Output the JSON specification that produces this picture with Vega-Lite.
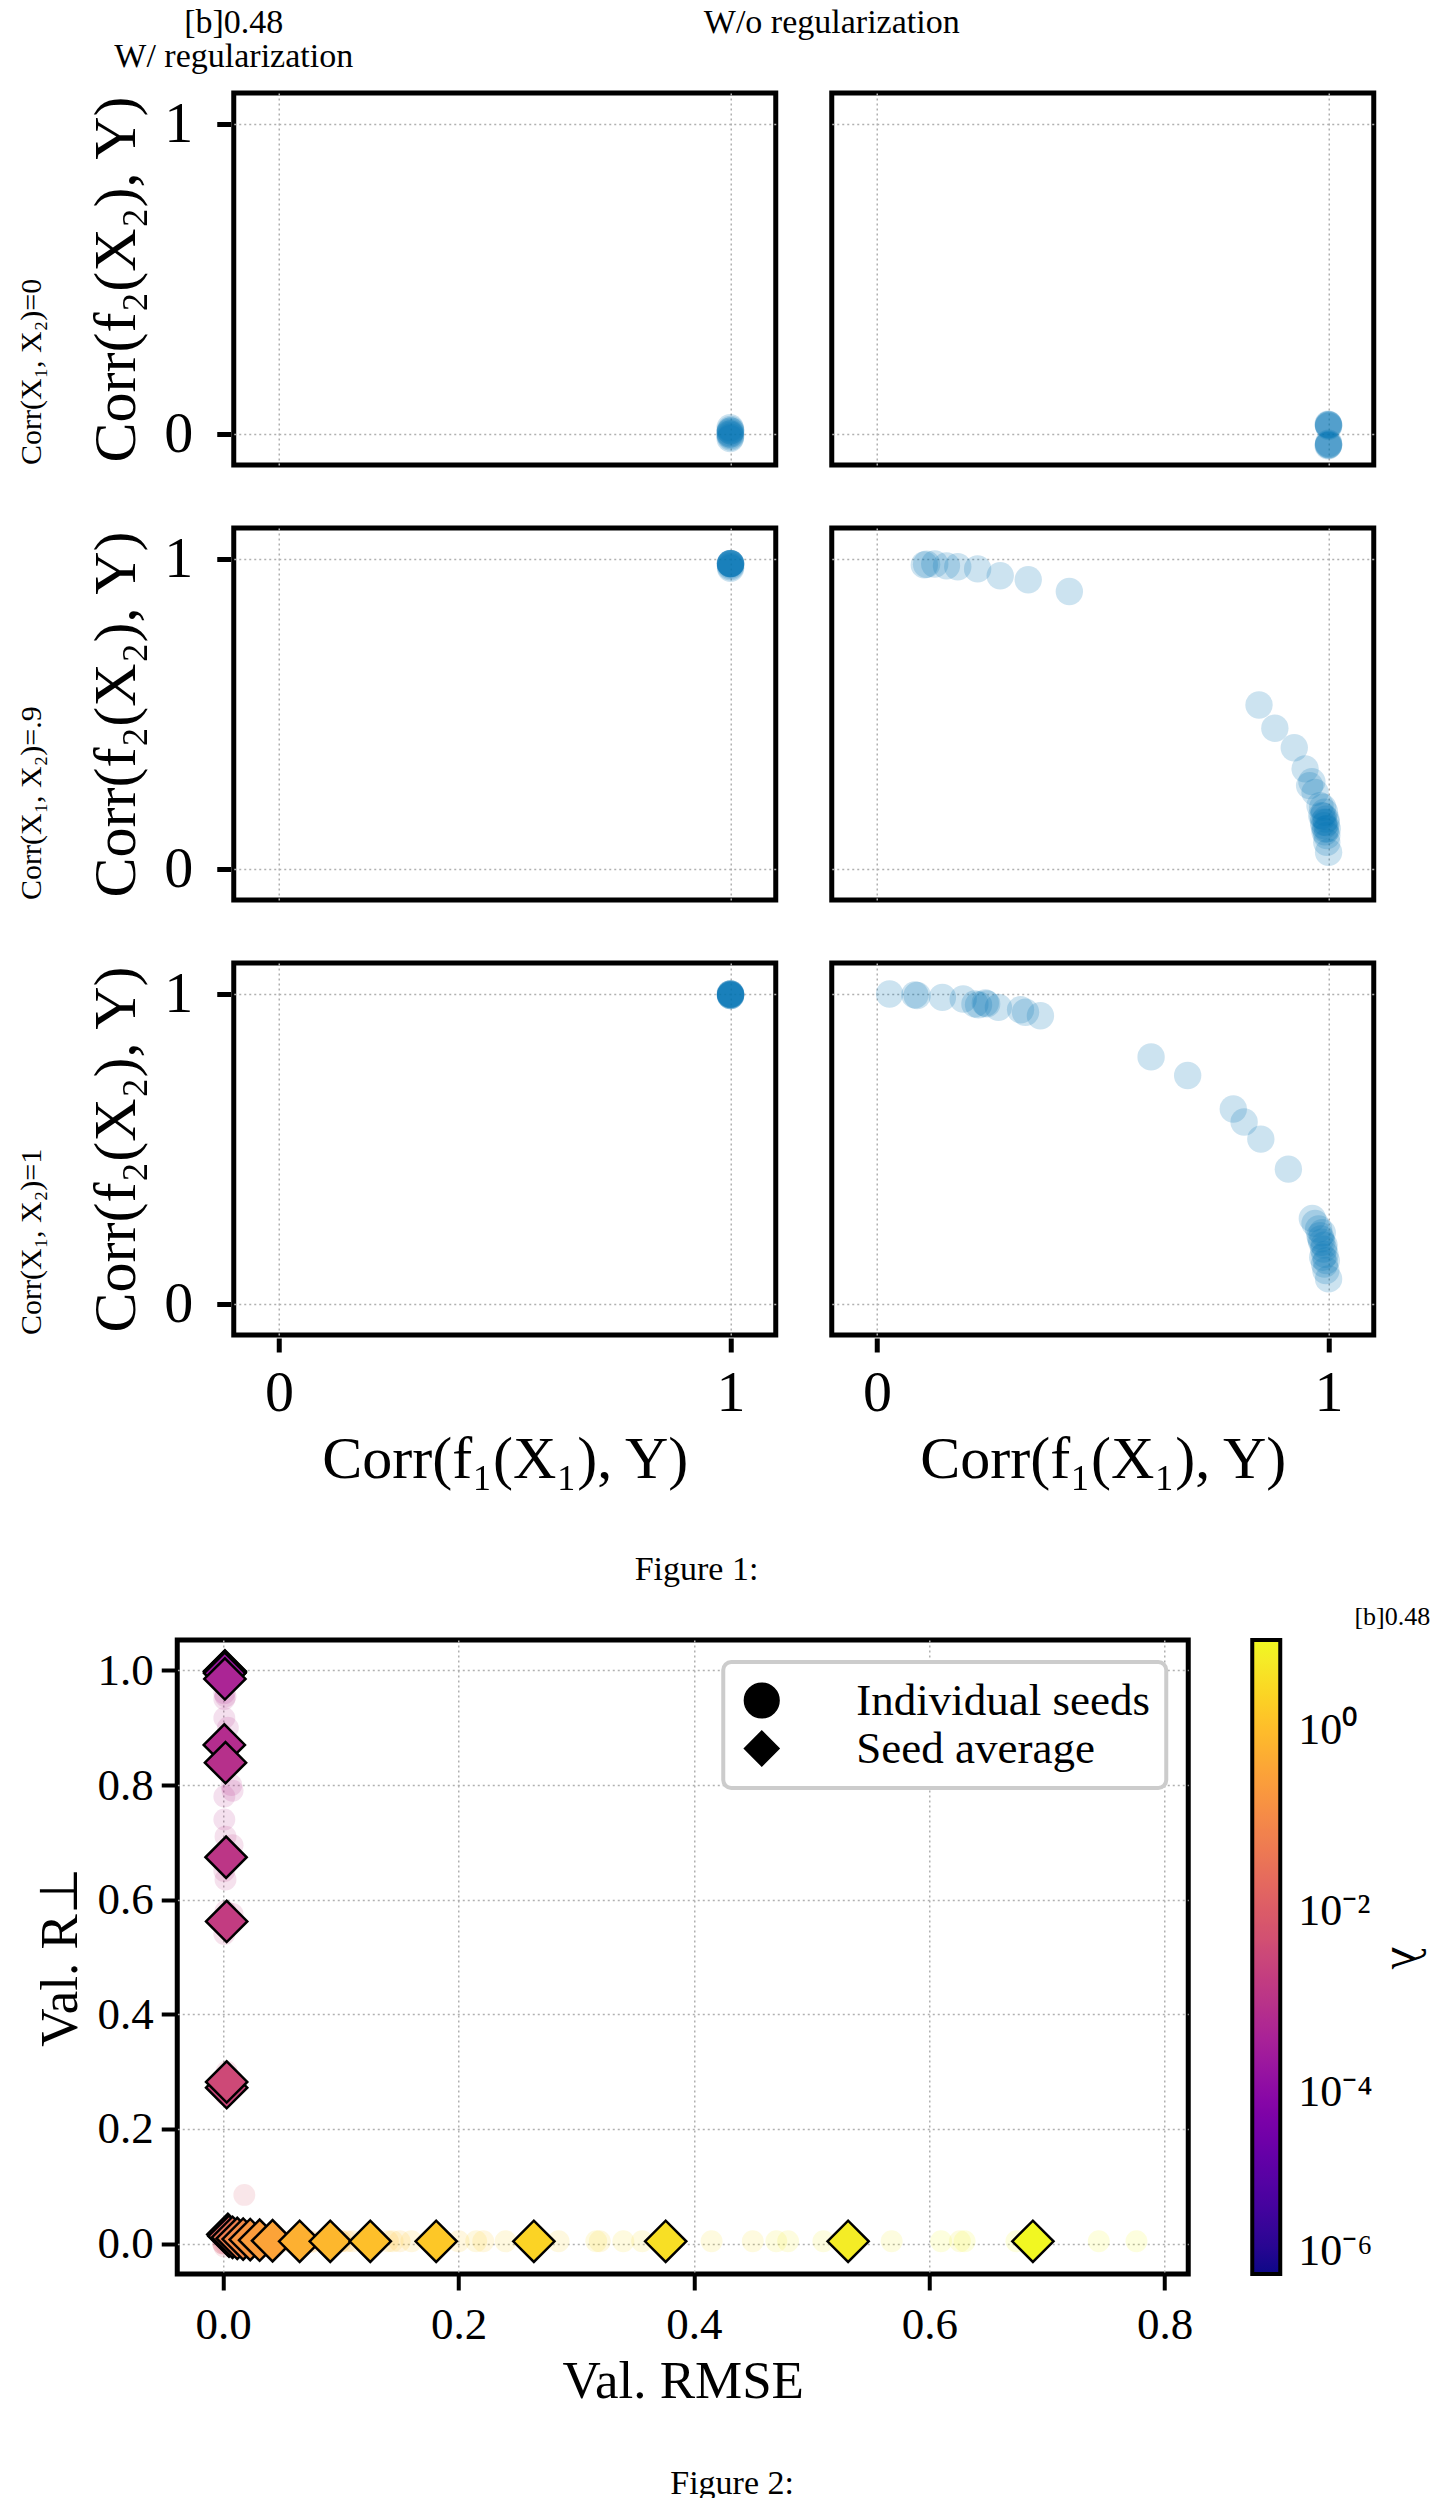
{
"$schema": "https://vega.github.io/schema/vega-lite/v6.json",
"background": "white",
"padding": {"left": 16, "top": 6, "right": 10, "bottom": 4},
"spacing": 14,
"center": true,
"resolve": {"legend": {"color": "independent", "shape": "independent"}, "scale": {"color": "independent", "shape": "independent"}},
"datasets": {
"fig1": [
{"reg":"W/","corr":"0","cx":0.999,"cy":-0.015},{"reg":"W/","corr":"0","cx":1,"cy":-0.01},{"reg":"W/","corr":"0","cx":1,"cy":-0.005},{"reg":"W/","corr":"0","cx":0.998,"cy":0},{"reg":"W/","corr":"0","cx":1,"cy":0},{"reg":"W/","corr":"0","cx":0.999,"cy":0.005},{"reg":"W/","corr":"0","cx":1,"cy":0.01},{"reg":"W/","corr":"0","cx":1,"cy":0.015},{"reg":"W/","corr":"0","cx":0.999,"cy":0.02},{"reg":"W/","corr":"0","cx":1,"cy":0.01},
{"reg":"W/o","corr":"0","cx":1,"cy":0.028},{"reg":"W/o","corr":"0","cx":1,"cy":0.03},{"reg":"W/o","corr":"0","cx":0.999,"cy":0.032},{"reg":"W/o","corr":"0","cx":1,"cy":0.025},{"reg":"W/o","corr":"0","cx":1,"cy":0.03},{"reg":"W/o","corr":"0","cx":1,"cy":-0.03},{"reg":"W/o","corr":"0","cx":1,"cy":-0.035},{"reg":"W/o","corr":"0","cx":0.999,"cy":-0.038},{"reg":"W/o","corr":"0","cx":1,"cy":-0.033},{"reg":"W/o","corr":"0","cx":1,"cy":-0.036},
{"reg":"W/","corr":"0.9","cx":1,"cy":0.985},{"reg":"W/","corr":"0.9","cx":1,"cy":0.985},{"reg":"W/","corr":"0.9","cx":1,"cy":0.986},{"reg":"W/","corr":"0.9","cx":0.999,"cy":0.985},{"reg":"W/","corr":"0.9","cx":1,"cy":0.984},{"reg":"W/","corr":"0.9","cx":1,"cy":0.985},{"reg":"W/","corr":"0.9","cx":1,"cy":0.985},{"reg":"W/","corr":"0.9","cx":1,"cy":0.975},{"reg":"W/","corr":"0.9","cx":1,"cy":0.97},{"reg":"W/","corr":"0.9","cx":1,"cy":0.98},
{"reg":"W/","corr":"1","cx":1,"cy":1.0},{"reg":"W/","corr":"1","cx":1,"cy":1.0},{"reg":"W/","corr":"1","cx":1,"cy":1.0},{"reg":"W/","corr":"1","cx":0.999,"cy":1.0},{"reg":"W/","corr":"1","cx":1,"cy":0.998},{"reg":"W/","corr":"1","cx":1,"cy":0.998},{"reg":"W/","corr":"1","cx":1,"cy":0.998},{"reg":"W/","corr":"1","cx":1,"cy":0.995},{"reg":"W/","corr":"1","cx":1,"cy":0.995},{"reg":"W/","corr":"1","cx":1,"cy":0.995},
{"reg":"W/o","corr":"0.9","cx":0.105,"cy":0.981},{"reg":"W/o","corr":"0.9","cx":0.11,"cy":0.983},{"reg":"W/o","corr":"0.9","cx":0.128,"cy":0.984},{"reg":"W/o","corr":"0.9","cx":0.154,"cy":0.978},{"reg":"W/o","corr":"0.9","cx":0.179,"cy":0.975},{"reg":"W/o","corr":"0.9","cx":0.223,"cy":0.968},{"reg":"W/o","corr":"0.9","cx":0.273,"cy":0.946},{"reg":"W/o","corr":"0.9","cx":0.335,"cy":0.933},{"reg":"W/o","corr":"0.9","cx":0.426,"cy":0.895},
{"reg":"W/o","corr":"0.9","cx":0.846,"cy":0.529},{"reg":"W/o","corr":"0.9","cx":0.881,"cy":0.454},{"reg":"W/o","corr":"0.9","cx":0.924,"cy":0.391},{"reg":"W/o","corr":"0.9","cx":0.948,"cy":0.323},{"reg":"W/o","corr":"0.9","cx":0.963,"cy":0.282},{"reg":"W/o","corr":"0.9","cx":0.958,"cy":0.269},{"reg":"W/o","corr":"0.9","cx":0.97,"cy":0.247},{"reg":"W/o","corr":"0.9","cx":0.981,"cy":0.204},{"reg":"W/o","corr":"0.9","cx":0.987,"cy":0.199},{"reg":"W/o","corr":"0.9","cx":0.985,"cy":0.172},{"reg":"W/o","corr":"0.9","cx":0.991,"cy":0.183},{"reg":"W/o","corr":"0.9","cx":0.994,"cy":0.161},{"reg":"W/o","corr":"0.9","cx":0.989,"cy":0.151},{"reg":"W/o","corr":"0.9","cx":0.99,"cy":0.14},{"reg":"W/o","corr":"0.9","cx":0.993,"cy":0.129},{"reg":"W/o","corr":"0.9","cx":0.996,"cy":0.108},{"reg":"W/o","corr":"0.9","cx":0.996,"cy":0.086},{"reg":"W/o","corr":"0.9","cx":1.0,"cy":0.054},{"reg":"W/o","corr":"0.9","cx":0.992,"cy":0.12},{"reg":"W/o","corr":"0.9","cx":0.995,"cy":0.15},{"reg":"W/o","corr":"0.9","cx":0.988,"cy":0.17},{"reg":"W/o","corr":"0.9","cx":0.997,"cy":0.13},
{"reg":"W/o","corr":"1","cx":0.028,"cy":1.0},{"reg":"W/o","corr":"1","cx":0.084,"cy":0.997},{"reg":"W/o","corr":"1","cx":0.089,"cy":0.995},{"reg":"W/o","corr":"1","cx":0.145,"cy":0.989},{"reg":"W/o","corr":"1","cx":0.191,"cy":0.984},{"reg":"W/o","corr":"1","cx":0.217,"cy":0.968},{"reg":"W/o","corr":"1","cx":0.24,"cy":0.971},{"reg":"W/o","corr":"1","cx":0.243,"cy":0.968},{"reg":"W/o","corr":"1","cx":0.225,"cy":0.965},{"reg":"W/o","corr":"1","cx":0.269,"cy":0.957},{"reg":"W/o","corr":"1","cx":0.318,"cy":0.949},{"reg":"W/o","corr":"1","cx":0.329,"cy":0.941},{"reg":"W/o","corr":"1","cx":0.362,"cy":0.93},
{"reg":"W/o","corr":"1","cx":0.607,"cy":0.797},{"reg":"W/o","corr":"1","cx":0.688,"cy":0.737},{"reg":"W/o","corr":"1","cx":0.789,"cy":0.629},{"reg":"W/o","corr":"1","cx":0.813,"cy":0.587},{"reg":"W/o","corr":"1","cx":0.85,"cy":0.532},{"reg":"W/o","corr":"1","cx":0.911,"cy":0.435},{"reg":"W/o","corr":"1","cx":0.964,"cy":0.276},{"reg":"W/o","corr":"1","cx":0.97,"cy":0.26},{"reg":"W/o","corr":"1","cx":0.978,"cy":0.242},{"reg":"W/o","corr":"1","cx":0.981,"cy":0.22},{"reg":"W/o","corr":"1","cx":0.985,"cy":0.199},{"reg":"W/o","corr":"1","cx":0.989,"cy":0.177},{"reg":"W/o","corr":"1","cx":0.987,"cy":0.151},{"reg":"W/o","corr":"1","cx":0.991,"cy":0.129},{"reg":"W/o","corr":"1","cx":0.994,"cy":0.108},{"reg":"W/o","corr":"1","cx":1.0,"cy":0.081},{"reg":"W/o","corr":"1","cx":0.983,"cy":0.21},{"reg":"W/o","corr":"1","cx":0.99,"cy":0.19},{"reg":"W/o","corr":"1","cx":0.992,"cy":0.16},{"reg":"W/o","corr":"1","cx":0.986,"cy":0.23},{"reg":"W/o","corr":"1","cx":0.995,"cy":0.14}
],
"avg": [
{"rmse":0.0015,"r":0.999,"lam":0.000001,"kind":"Seed average"},{"rmse":0.0015,"r":0.998,"lam":0.000003,"kind":"Seed average"},{"rmse":0.0012,"r":0.998,"lam":0.00001,"kind":"Seed average"},{"rmse":0.0018,"r":0.997,"lam":0.00003,"kind":"Seed average"},{"rmse":0.0015,"r":0.996,"lam":0.0001,"kind":"Seed average"},{"rmse":0.0013,"r":0.995,"lam":0.0002,"kind":"Seed average"},
{"rmse":0.0015,"r":0.985,"lam":0.00046,"kind":"Seed average"},{"rmse":0.001,"r":0.87,"lam":0.00074,"kind":"Seed average"},{"rmse":0.002,"r":0.839,"lam":0.00087,"kind":"Seed average"},{"rmse":0.0025,"r":0.674,"lam":0.0012,"kind":"Seed average"},{"rmse":0.003,"r":0.562,"lam":0.0017,"kind":"Seed average"},{"rmse":0.003,"r":0.272,"lam":0.003,"kind":"Seed average"},{"rmse":0.003,"r":0.282,"lam":0.0035,"kind":"Seed average"},
{"rmse":0.004,"r":0.016,"lam":0.007,"kind":"Seed average"},{"rmse":0.005,"r":0.013,"lam":0.016,"kind":"Seed average"},{"rmse":0.008,"r":0.011,"lam":0.035,"kind":"Seed average"},{"rmse":0.012,"r":0.009,"lam":0.068,"kind":"Seed average"},{"rmse":0.017,"r":0.008,"lam":0.11,"kind":"Seed average"},{"rmse":0.023,"r":0.007,"lam":0.18,"kind":"Seed average"},{"rmse":0.031,"r":0.006,"lam":0.25,"kind":"Seed average"},{"rmse":0.042,"r":0.005,"lam":0.35,"kind":"Seed average"},{"rmse":0.065,"r":0.004,"lam":0.6,"kind":"Seed average"},{"rmse":0.091,"r":0.004,"lam":0.8,"kind":"Seed average"},{"rmse":0.125,"r":0.004,"lam":1.1,"kind":"Seed average"},{"rmse":0.181,"r":0.004,"lam":1.5,"kind":"Seed average"},{"rmse":0.264,"r":0.004,"lam":2.4,"kind":"Seed average"},{"rmse":0.376,"r":0.004,"lam":3.9,"kind":"Seed average"},{"rmse":0.531,"r":0.004,"lam":6.2,"kind":"Seed average"},{"rmse":0.688,"r":0.004,"lam":9.2,"kind":"Seed average"}
],
"seeds": [
{"rmse":0.001,"r":1.0,"lam":0.000001},{"rmse":0.002,"r":0.998,"lam":0.000001},{"rmse":0.0015,"r":0.999,"lam":0.000003},{"rmse":0.001,"r":0.997,"lam":0.000003},{"rmse":0.001,"r":0.998,"lam":0.00001},{"rmse":0.002,"r":0.999,"lam":0.00001},{"rmse":0.002,"r":0.996,"lam":0.00003},{"rmse":0.0015,"r":0.998,"lam":0.00003},{"rmse":0.001,"r":0.995,"lam":0.0001},{"rmse":0.002,"r":0.997,"lam":0.0001},{"rmse":0.001,"r":0.993,"lam":0.0002},{"rmse":0.0015,"r":0.997,"lam":0.0002},
{"rmse":0.001,"r":1.0,"lam":0.00046},{"rmse":0.002,"r":0.99,"lam":0.00046},{"rmse":0.0015,"r":0.975,"lam":0.00046},{"rmse":0.001,"r":0.96,"lam":0.00046},{"rmse":0.002,"r":1.0,"lam":0.00046},
{"rmse":0.002,"r":0.955,"lam":0.00074},{"rmse":0.004,"r":0.9,"lam":0.00074},{"rmse":0.001,"r":0.917,"lam":0.00074},{"rmse":0.008,"r":0.79,"lam":0.00074},{"rmse":0.001,"r":0.78,"lam":0.00074},
{"rmse":0.001,"r":0.95,"lam":0.00087},{"rmse":0.003,"r":0.86,"lam":0.00087},{"rmse":0.002,"r":0.845,"lam":0.00087},{"rmse":0.007,"r":0.8,"lam":0.00087},{"rmse":0.001,"r":0.74,"lam":0.00087},
{"rmse":0.008,"r":0.695,"lam":0.0012},{"rmse":0.002,"r":0.71,"lam":0.0012},{"rmse":0.001,"r":0.65,"lam":0.0012},{"rmse":0.004,"r":0.68,"lam":0.0012},{"rmse":0.002,"r":0.635,"lam":0.0012},
{"rmse":0.008,"r":0.575,"lam":0.0017},{"rmse":0.002,"r":0.58,"lam":0.0017},{"rmse":0.001,"r":0.54,"lam":0.0017},{"rmse":0.004,"r":0.56,"lam":0.0017},{"rmse":0.003,"r":0.555,"lam":0.0017},
{"rmse":0.003,"r":0.29,"lam":0.003},{"rmse":0.002,"r":0.26,"lam":0.003},{"rmse":0.004,"r":0.28,"lam":0.003},{"rmse":0.003,"r":0.27,"lam":0.003},{"rmse":0.003,"r":0.26,"lam":0.003},
{"rmse":0.003,"r":0.3,"lam":0.0035},{"rmse":0.002,"r":0.27,"lam":0.0035},{"rmse":0.004,"r":0.29,"lam":0.0035},{"rmse":0.003,"r":0.28,"lam":0.0035},{"rmse":0.003,"r":0.27,"lam":0.0035},
{"rmse":0.0,"r":0.0,"lam":0.007},{"rmse":0.001,"r":-0.005,"lam":0.007},{"rmse":0.0,"r":0.0,"lam":0.007},{"rmse":0.002,"r":0.0,"lam":0.007},{"rmse":0.018,"r":0.085,"lam":0.007},
{"rmse":0.003,"r":0.01,"lam":0.016},{"rmse":0.005,"r":0.02,"lam":0.016},{"rmse":0.007,"r":0.01,"lam":0.016},{"rmse":0.004,"r":0.015,"lam":0.016},{"rmse":0.006,"r":0.01,"lam":0.016},
{"rmse":0.006,"r":0.01,"lam":0.035},{"rmse":0.008,"r":0.012,"lam":0.035},{"rmse":0.01,"r":0.01,"lam":0.035},{"rmse":0.007,"r":0.012,"lam":0.035},{"rmse":0.009,"r":0.01,"lam":0.035},
{"rmse":0.01,"r":0.01,"lam":0.068},{"rmse":0.012,"r":0.008,"lam":0.068},{"rmse":0.014,"r":0.01,"lam":0.068},{"rmse":0.011,"r":0.009,"lam":0.068},{"rmse":0.013,"r":0.008,"lam":0.068},
{"rmse":0.014,"r":0.008,"lam":0.11},{"rmse":0.016,"r":0.008,"lam":0.11},{"rmse":0.018,"r":0.008,"lam":0.11},{"rmse":0.019,"r":0.008,"lam":0.11},{"rmse":0.018,"r":0.008,"lam":0.11},
{"rmse":0.02,"r":0.007,"lam":0.18},{"rmse":0.022,"r":0.007,"lam":0.18},{"rmse":0.024,"r":0.007,"lam":0.18},{"rmse":0.025,"r":0.007,"lam":0.18},{"rmse":0.024,"r":0.007,"lam":0.18},
{"rmse":0.027,"r":0.006,"lam":0.25},{"rmse":0.03,"r":0.006,"lam":0.25},{"rmse":0.032,"r":0.006,"lam":0.25},{"rmse":0.033,"r":0.006,"lam":0.25},{"rmse":0.033,"r":0.006,"lam":0.25},
{"rmse":0.036,"r":0.005,"lam":0.35},{"rmse":0.04,"r":0.005,"lam":0.35},{"rmse":0.042,"r":0.005,"lam":0.35},{"rmse":0.045,"r":0.005,"lam":0.35},{"rmse":0.047,"r":0.005,"lam":0.35},
{"rmse":0.055,"r":0.004,"lam":0.6},{"rmse":0.06,"r":0.004,"lam":0.6},{"rmse":0.065,"r":0.004,"lam":0.6},{"rmse":0.07,"r":0.004,"lam":0.6},{"rmse":0.075,"r":0.004,"lam":0.6},
{"rmse":0.075,"r":0.003,"lam":0.8},{"rmse":0.085,"r":0.004,"lam":0.8},{"rmse":0.09,"r":0.004,"lam":0.8},{"rmse":0.1,"r":0.004,"lam":0.8},{"rmse":0.105,"r":0.004,"lam":0.8},
{"rmse":0.1,"r":0.004,"lam":1.1},{"rmse":0.11,"r":0.004,"lam":1.1},{"rmse":0.125,"r":0.004,"lam":1.1},{"rmse":0.14,"r":0.004,"lam":1.1},{"rmse":0.15,"r":0.004,"lam":1.1},
{"rmse":0.144,"r":0.004,"lam":1.5},{"rmse":0.16,"r":0.004,"lam":1.5},{"rmse":0.18,"r":0.004,"lam":1.5},{"rmse":0.2,"r":0.004,"lam":1.5},{"rmse":0.221,"r":0.004,"lam":1.5},
{"rmse":0.215,"r":0.004,"lam":2.4},{"rmse":0.24,"r":0.004,"lam":2.4},{"rmse":0.26,"r":0.004,"lam":2.4},{"rmse":0.285,"r":0.004,"lam":2.4},{"rmse":0.32,"r":0.004,"lam":2.4},
{"rmse":0.317,"r":0.004,"lam":3.9},{"rmse":0.34,"r":0.004,"lam":3.9},{"rmse":0.356,"r":0.004,"lam":3.9},{"rmse":0.415,"r":0.004,"lam":3.9},{"rmse":0.45,"r":0.004,"lam":3.9},
{"rmse":0.47,"r":0.004,"lam":6.2},{"rmse":0.48,"r":0.004,"lam":6.2},{"rmse":0.51,"r":0.004,"lam":6.2},{"rmse":0.568,"r":0.004,"lam":6.2},{"rmse":0.626,"r":0.004,"lam":6.2},
{"rmse":0.61,"r":0.004,"lam":9.2},{"rmse":0.63,"r":0.004,"lam":9.2},{"rmse":0.674,"r":0.004,"lam":9.2},{"rmse":0.744,"r":0.004,"lam":9.2},{"rmse":0.776,"r":0.004,"lam":9.2}
]
},
"vconcat": [
{
"data": {"name": "fig1"},
"title": {"text": "Figure 1:", "orient": "bottom", "anchor": "middle", "frame": "bounds", "fontSize": 34, "offset": 64},
"spacing": {"row": 57, "column": 50},
"facet": {
"row": {"field": "corr", "type": "nominal", "sort": ["0", "0.9", "1"], "title": null,
"header": {"labelExpr": "datum.value == '0' ? 'Corr(X₁, X₂)=0' : datum.value == '0.9' ? 'Corr(X₁, X₂)=.9' : 'Corr(X₁, X₂)=1'", "labelAngle": -90, "labelOrient": "left", "labelFontSize": 30, "labelPadding": 25, "labelAnchor": "start"}},
"column": {"field": "reg", "type": "nominal", "sort": ["W/", "W/o"], "title": null,
"header": {"labelExpr": "datum.value == 'W/' ? ['[b]0.48', 'W/ regularization'] : ['W/o regularization', ' ']", "labelFontSize": 34, "labelAnchor": "start", "labelAlign": "center", "labelLineHeight": 34, "labelPadding": 16}}
},
"spec": {
"width": 542, "height": 372,
"mark": {"type": "circle", "size": 750, "opacity": 0.2, "color": "#0173b2"},
"encoding": {
"x": {"field": "cx", "type": "quantitative", "scale": {"domain": [-0.1, 1.1], "nice": false, "zero": false},
"axis": {"title": "Corr(f₁(X₁), Y)", "values": [0, 1], "format": "d", "labelFontSize": 58, "titleFontSize": 60, "labelPadding": 12, "titlePadding": 8}},
"y": {"field": "cy", "type": "quantitative", "scale": {"domain": [-0.1, 1.1], "nice": false, "zero": false},
"axis": {"title": "Corr(f₂(X₂), Y)", "values": [0, 1], "format": "d", "labelFontSize": 58, "titleFontSize": 60, "labelPadding": 24, "titlePadding": 16}}
}
}
},
{
"title": {"text": "Figure 2:", "orient": "bottom", "anchor": "middle", "frame": "bounds", "fontSize": 34, "offset": 56},
"resolve": {"legend": {"color": "independent", "shape": "independent"}, "scale": {"color": "independent", "shape": "independent"}},
"vconcat": [
{
"title": {"text": "[b]0.48", "orient": "top", "anchor": "end", "frame": "bounds", "fontSize": 26, "offset": 10},
"width": 1011, "height": 634,
"encoding": {
"x": {"field": "rmse", "type": "quantitative", "scale": {"domain": [-0.039, 0.82], "nice": false, "zero": false},
"axis": {"title": "Val. RMSE", "values": [0, 0.2, 0.4, 0.6, 0.8], "format": ".1f", "labelFontSize": 45, "titleFontSize": 53, "tickSize": 16, "tickWidth": 4, "labelPadding": 12, "titlePadding": 8}},
"y": {"field": "r", "type": "quantitative", "scale": {"domain": [-0.053, 1.053], "nice": false, "zero": false},
"axis": {"title": "Val. R⊥", "values": [0, 0.2, 0.4, 0.6, 0.8, 1], "format": ".1f", "labelFontSize": 45, "titleFontSize": 53, "tickSize": 16, "tickWidth": 4, "labelPadding": 8, "titlePadding": 10}},
"color": {"field": "lam", "type": "quantitative", "scale": {"type": "log", "scheme": "plasma", "domain": [0.000001, 10]},
"legend": {"title": "λ", "orient": "right", "offset": 64, "type": "gradient", "direction": "vertical", "gradientLength": 634, "gradientThickness": 28, "gradientOpacity": 1, "gradientStrokeColor": "black", "gradientStrokeWidth": 4, "values": [0.000001, 0.0001, 0.01, 1], "labelExpr": "datum.value >= 0.5 ? '10⁰' : datum.value >= 0.005 ? '10⁻²' : datum.value >= 0.00005 ? '10⁻⁴' : '10⁻⁶'", "labelFontSize": 44, "labelOffset": 18, "labelOverlap": false, "titleOrient": "right", "titleFontSize": 48, "titlePadding": 10}}
},
"layer": [
{"data": {"name": "seeds"}, "mark": {"type": "circle", "size": 480, "opacity": 0.15}},
{"data": {"name": "avg"}, "mark": {"type": "point", "filled": true, "size": 1700, "opacity": 1, "stroke": "black", "strokeWidth": 2.5},
"encoding": {"shape": {"field": "kind", "type": "nominal", "scale": {"domain": ["Individual seeds", "Seed average"], "range": ["circle", "diamond"]},
"legend": {"title": null, "orient": "top-right", "offset": 22, "fillColor": "white", "strokeColor": "#cccccc", "cornerRadius": 8, "padding": 16, "labelFontSize": 45, "labelLimit": 500, "symbolSize": 1200, "labelOffset": 72, "symbolFillColor": "black", "symbolStrokeColor": "black", "symbolOpacity": 1,
"encode": {"legend": {"update": {"strokeWidth": {"value": 4}}}}}}}}
]
}
]
}
],
"config": {
"font": "Liberation Serif",
"view": {"stroke": "black", "strokeWidth": 5},
"axis": {"domain": false, "grid": true, "gridColor": "#b0b0b0", "gridDash": [2, 3], "gridWidth": 1.5, "tickColor": "black", "tickWidth": 5, "tickSize": 14, "labelColor": "black", "titleColor": "black", "titleFontWeight": "normal", "labelFont": "Liberation Serif", "titleFont": "Liberation Serif", "labelFlush": false},
"header": {"labelFont": "Liberation Serif", "labelColor": "black", "titleFont": "Liberation Serif"},
"title": {"font": "Liberation Serif", "fontWeight": "normal", "color": "black"},
"legend": {"labelFont": "Liberation Serif", "titleFont": "Liberation Serif", "labelColor": "black", "titleColor": "black", "titleFontWeight": "normal"}
}
}
